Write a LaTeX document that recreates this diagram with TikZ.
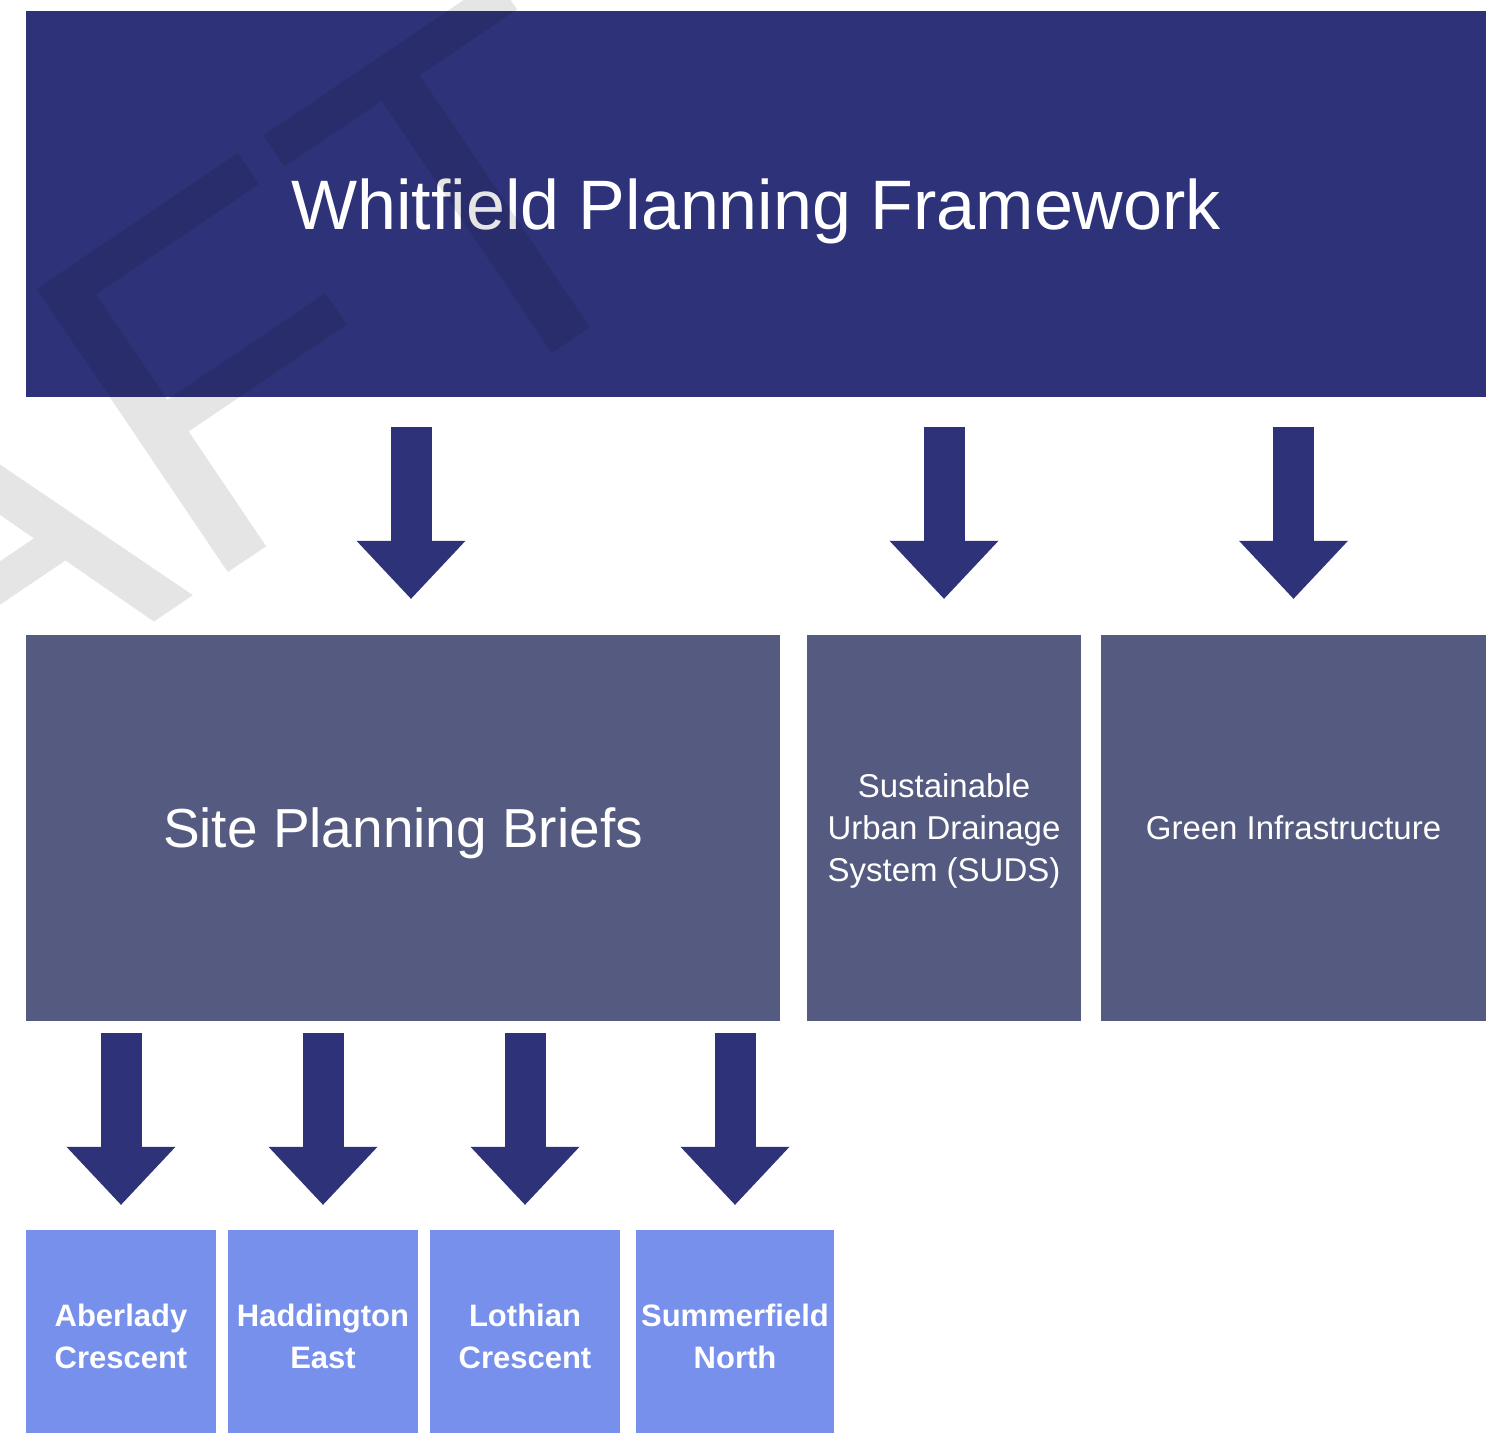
\documentclass[tikz,border=0pt]{standalone}
\usepackage{fontspec}
\setmainfont{Liberation Sans}
\newfontfamily\draftfont{Liberation Sans}
\usetikzlibrary{arrows.meta}
\definecolor{navy}{RGB}{46,51,121}
\definecolor{slate}{RGB}{85,90,128}
\definecolor{peri}{RGB}{118,144,235}

\begin{document}
\begin{tikzpicture}[x=1pt,y=-1pt,
  >={Triangle[width=109pt,length=58pt,line width=0pt]},
  panel/.style={rectangle,inner sep=0pt,text=white,align=center,text depth=0pt,minimum height=386pt},
  site/.style={rectangle,fill=peri,inner sep=0pt,text=white,align=center,minimum width=190pt,minimum height=212pt,font=\fontsize{31}{42}\selectfont\bfseries},
  blk/.style={->,draw=navy,line width=41pt}]
			\useasboundingbox(0,0)rectangle(1487,1432);
			\clip(0,0)rectangle(1487,1432);
			\node[panel,fill=navy,minimum width=1460pt,font=\fontsize{70}{80}\selectfont](frame)at(756,204){Whitfield Planning Framework};
			\node[panel,fill=slate,minimum width=754pt,font=\fontsize{55}{60}\selectfont](brief)at(403,828){Site Planning Briefs};
			\node[panel,fill=slate,minimum width=274pt,font=\fontsize{33}{42}\selectfont](suds)at(944,828){Sustainable\\Urban Drainage\\System (SUDS)};
			\node[panel,fill=slate,minimum width=385pt,font=\fontsize{33}{42}\selectfont](green)at(1293.5,828){Green Infrastructure};
			\node[site](aber)at(121,1336){Aberlady\\Crescent};
			\node[site](hadd)at(323,1336){Haddington\\East};
			\node[site](loth)at(525,1336){Lothian\\Crescent};
			\node[site,minimum width=198pt](summ)at(735,1336){Summerfield\\North};
			\coordinate(briefin)at([xshift=8pt]brief.north);
			\draw[blk,shorten <=30pt,shorten >=36pt](frame.south-|briefin)--(briefin);
			\draw[blk,shorten <=30pt,shorten >=36pt](frame.south-|suds.north)--(suds.north);
			\draw[blk,shorten <=30pt,shorten >=36pt](frame.south-|green.north)--(green.north);
			\foreach \s in {aber,hadd,loth,summ}
				\draw[blk,shorten <=12pt,shorten >=25pt](brief.south-|\s.north)--(\s.north);
			\node[rotate=34,anchor=base,inner sep=0pt,text=black,text opacity=0.1,font=\draftfont\fontsize{497}{497}\selectfont](draft)at(11,719){DRAFT};
		\end{tikzpicture}
\end{document}
